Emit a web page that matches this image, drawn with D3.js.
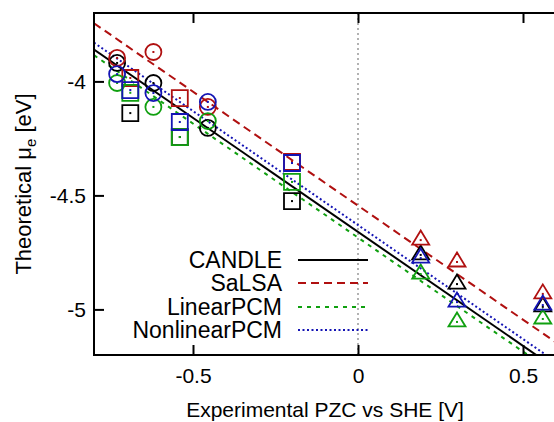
<!DOCTYPE html>
<html>
<head>
<meta charset="utf-8">
<script src="https://cdn.jsdelivr.net/npm/d3@7"></script>
<style>
  html, body { margin: 0; padding: 0; background: #fff; }
  svg { display: block; font-family: "Liberation Sans", Arial, Helvetica, sans-serif; }
</style>
</head>
<body>
<svg id="chart" width="554" height="422"></svg>
<script>
// ---- data ----
const pzcExp = [-0.73, -0.69, -0.62, -0.54, -0.455, -0.20, 0.19, 0.30, 0.56];
const markerShape = ["circle", "square", "circle", "square", "circle", "square", "triangle", "triangle", "triangle"];
const seriesNames = ["CANDLE", "SaLSA", "LinearPCM", "NonlinearPCM"];
const candle       = [-3.919, -4.139, -4.007, -4.244, -4.204, -4.525, -4.761, -4.889, -4.989];
const salsa        = [-3.897, -3.985, -3.871, -4.073, -4.112, -4.353, -4.696, -4.792, -4.932];
const linearPCM    = [-4.007, -4.050, -4.112, -4.244, -4.174, -4.441, -4.845, -5.055, -5.042];
const nonlinearPCM = [-3.968, -4.038, -4.051, -4.178, -4.090, -4.358, -4.775, -4.968, -4.981];
// linear fits: slope, intercept
const fitSlope     = [-1.0, -1.0, -1.0, -1.0];
const fitIntercept = [-4.660, -4.545, -4.685, -4.630];
const xTicks = [-0.5, 0, 0.5];
const yTicks = [-4, -4.5, -5];
const xDomain = [-0.8, 0.6];
const yDomain = [-5.2, -3.7];

// ---- styles ----
const colors = ["#000000", "#b01010", "#10a010", "#1414b4"];
const dashes = [null, "8,5", "4,5", "2,2.5"];
const values = [candle, salsa, linearPCM, nonlinearPCM];

const svg = d3.select("#chart");
const pL = 94, pR = 556, pT = 13, pB = 355;
const x = d3.scaleLinear().domain(xDomain).range([pL, pR]);
const y = d3.scaleLinear().domain(yDomain).range([pB, pT]);

const defs = svg.append("defs");
defs.append("clipPath").attr("id", "clip")
  .append("rect").attr("x", pL).attr("y", pT).attr("width", pR - pL).attr("height", pB - pT);

// zero line
svg.append("line")
  .attr("x1", x(0)).attr("x2", x(0)).attr("y1", pT).attr("y2", pB)
  .attr("stroke", "#999").attr("stroke-width", 1.5).attr("stroke-dasharray", "2,3");

const plot = svg.append("g").attr("clip-path", "url(#clip)");

// fit lines
seriesNames.forEach((name, i) => {
  const xs = [xDomain[0], xDomain[1]];
  plot.append("path")
    .datum(xs.map(v => [v, fitSlope[i] * v + fitIntercept[i]]))
    .attr("d", d3.line().x(d => x(d[0])).y(d => y(d[1])))
    .attr("fill", "none")
    .attr("stroke", colors[i])
    .attr("stroke-width", 2)
    .attr("stroke-dasharray", dashes[i]);
});

// markers
function markerPath(shape) {
  if (shape === "square") return "M-8,-8H8V8H-8Z";
  return "M0,-9.5L8.5,4.5H-8.5Z";
}
seriesNames.forEach((name, i) => {
  const g = plot.append("g");
  pzcExp.forEach((px, j) => {
    const mg = g.append("g").attr("transform", `translate(${x(px)},${y(values[i][j])})`);
    if (markerShape[j] === "circle") {
      mg.append("circle").attr("r", 8).attr("fill", "none").attr("stroke", colors[i]).attr("stroke-width", 1.8);
    } else {
      mg.append("path").attr("d", markerPath(markerShape[j])).attr("fill", "none")
        .attr("stroke", colors[i]).attr("stroke-width", 1.8).attr("stroke-linejoin", "miter");
    }
    mg.append("rect").attr("x", -1).attr("y", -1).attr("width", 2).attr("height", 2).attr("fill", colors[i]);
  });
});

// frame
svg.append("rect").attr("x", pL).attr("y", pT).attr("width", pR - pL).attr("height", pB - pT)
  .attr("fill", "none").attr("stroke", "#000").attr("stroke-width", 2);

// axes (inward ticks)
const tickLen = 10;
const xAxisB = d3.axisBottom(x).tickValues(xTicks).tickSize(-tickLen).tickPadding(13)
  .tickFormat(d => String(d));
const gx = svg.append("g").attr("transform", `translate(0,${pB})`).call(xAxisB);
gx.select(".domain").remove();
gx.attr("font-family", null).attr("font-size", null);
gx.selectAll(".tick line").attr("stroke", "#000").attr("stroke-width", 2);
gx.selectAll(".tick text").attr("font-size", 21).attr("fill", "#000");

const xAxisT = d3.axisTop(x).tickValues(xTicks).tickSize(-tickLen).tickFormat("");
const gxt = svg.append("g").attr("transform", `translate(0,${pT})`).call(xAxisT);
gxt.select(".domain").remove();
gxt.selectAll(".tick line").attr("stroke", "#000").attr("stroke-width", 2);

const yAxisL = d3.axisLeft(y).tickValues(yTicks).tickSize(-tickLen).tickPadding(8)
  .tickFormat(d => String(d));
const gy = svg.append("g").attr("transform", `translate(${pL},0)`).call(yAxisL);
gy.select(".domain").remove();
gy.attr("font-family", null).attr("font-size", null);
gy.selectAll(".tick line").attr("stroke", "#000").attr("stroke-width", 2);
gy.selectAll(".tick text").attr("font-size", 21).attr("fill", "#000");

// axis titles
svg.append("text").attr("x", 325).attr("y", 417).attr("text-anchor", "middle")
  .attr("font-size", 21).text("Experimental PZC vs SHE [V]");

const yl = svg.append("text").attr("transform", `translate(31,${184}) rotate(-90)`)
  .attr("text-anchor", "middle").attr("font-size", 22);
yl.append("tspan").text("Theoretical μ");
yl.append("tspan").attr("font-size", 15).attr("dy", 5).text("e");
yl.append("tspan").attr("dy", -5).text(" [eV]");

// legend
const legY = [260, 283, 307, 330];
seriesNames.forEach((name, i) => {
  svg.append("text").attr("x", 282).attr("y", legY[i]).attr("dy", "0.35em")
    .attr("text-anchor", "end").attr("font-size", 23).text(name);
  svg.append("line").attr("x1", 298).attr("x2", 368).attr("y1", legY[i]).attr("y2", legY[i])
    .attr("stroke", colors[i]).attr("stroke-width", 2).attr("stroke-dasharray", dashes[i]);
});
</script>
</body>
</html>
